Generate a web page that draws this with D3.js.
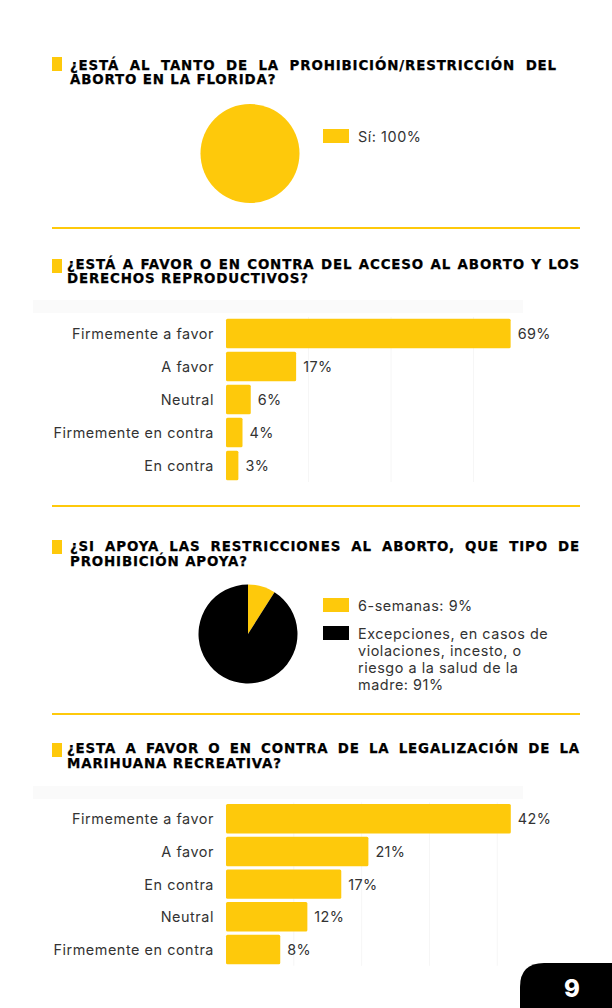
<!DOCTYPE html>
<html>
<head>
<meta charset="utf-8">
<script src="https://cdn.jsdelivr.net/npm/d3@7"></script>
<style>
  body { margin: 0; background: #fff; }
  svg { display: block; }
</style>
</head>
<body>
<script>
// ---- data ----
const titles1 = ["¿ESTÁ AL TANTO DE LA PROHIBICIÓN/RESTRICCIÓN DEL", "ABORTO EN LA FLORIDA?"];
const titles2 = ["¿ESTÁ A FAVOR O EN CONTRA DEL ACCESO AL ABORTO Y LOS", "DERECHOS REPRODUCTIVOS?"];
const titles3 = ["¿SI APOYA LAS RESTRICCIONES AL ABORTO, QUE TIPO DE", "PROHIBICIÓN APOYA?"];
const titles4 = ["¿ESTA A FAVOR O EN CONTRA DE LA LEGALIZACIÓN DE LA", "MARIHUANA RECREATIVA?"];

const pie1Labels = ["Sí: 100%"];
const pie1Values = [100];

const accesoCats = ["Firmemente a favor", "A favor", "Neutral", "Firmemente en contra", "En contra"];
const accesoVals = [69, 17, 6, 4, 3];

const pie2Lines = [["6-semanas: 9%"], ["Excepciones, en casos de", "violaciones, incesto, o", "riesgo a la salud de la", "madre: 91%"]];
const pie2Values = [9, 91];

const mariCats = ["Firmemente a favor", "A favor", "En contra", "Neutral", "Firmemente en contra"];
const mariVals = [42, 21, 17, 12, 8];

const pageNumber = "9";

const yellow = "#fec90b";
const ink = "#000";
const bodyFont = "Inter, 'Noto Sans', sans-serif";
const titleFont = "'DejaVu Sans', sans-serif";

let width = 612, height = 1008;

let svg = d3.select('body')
  .append('svg')
  .attr('width', width)
  .attr('height', height);

// section title with small yellow marker, first line justified
function drawTitle(lines, tx, y0, endX, markerY) {
  svg.append('rect')
    .attr('x', 52).attr('y', markerY)
    .attr('width', 10).attr('height', 14)
    .attr('fill', yellow);

  lines.forEach((line, i) => {
    let t = svg.append('text')
      .attr('x', tx)
      .attr('y', y0 + i * 14.8)
      .text(line)
      .style('font-family', titleFont)
      .style('font-weight', 'bold')
      .style('font-size', '13.4px')
      .style('letter-spacing', '0.85px')
      .attr('fill', ink)
      .attr('stroke', ink)
      .attr('stroke-width', 0.25);
    if (i === 0) {
      let w = t.node().getComputedTextLength();
      let gaps = line.split(' ').length - 1;
      let extra = (endX - tx - w) / gaps;
      t.style('word-spacing', extra + 'px');
    }
  });
}

function drawSeparator(y) {
  svg.append('line')
    .attr('x1', 52).attr('x2', 580)
    .attr('y1', y).attr('y2', y)
    .attr('stroke', yellow)
    .attr('stroke-width', 2);
}

function drawPie(values, colors, cx, cy, r) {
  let pie = d3.pie().sort(null)(values);
  let arc = d3.arc().innerRadius(0).outerRadius(r);
  svg.append('g')
    .attr('transform', `translate(${cx}, ${cy})`)
    .selectAll('path')
    .data(pie)
    .enter()
    .append('path')
    .attr('d', arc)
    .attr('fill', (d, i) => colors[i]);
}

function drawLegend(lineSets, colors, x, ys) {
  lineSets.forEach((lines, i) => {
    svg.append('rect')
      .attr('x', x).attr('y', ys[i])
      .attr('width', 26).attr('height', 14)
      .attr('fill', colors[i]);
    lines.forEach((l, j) => {
      svg.append('text')
        .attr('x', x + 35)
        .attr('y', ys[i] + 7 + j * 17)
        .attr('dominant-baseline', 'central')
        .text(l)
        .style('font-family', bodyFont)
        .style('font-size', '14.4px')
        .style('letter-spacing', '0.55px')
        .attr('fill', '#333');
    });
  });
}

function drawBars(cats, vals, xMax, ticks, bandTop, top, bottom) {
  let xScale = d3.scaleLinear()
    .domain([0, xMax])
    .range([226, 523]);

  let yScale = d3.scaleBand()
    .domain(cats)
    .range([top, bottom])
    .paddingInner(0.1)
    .paddingOuter(0.05);

  // faint header band
  svg.append('rect')
    .attr('x', 33).attr('y', bandTop)
    .attr('width', 490).attr('height', 13)
    .attr('fill', '#fafafa');

  // gridlines
  svg.append('g')
    .selectAll('line')
    .data(ticks)
    .enter()
    .append('line')
    .attr('x1', d => xScale(d)).attr('x2', d => xScale(d))
    .attr('y1', top).attr('y2', bottom)
    .attr('stroke', '#f6f6f6')
    .attr('stroke-width', 1);

  svg.append('g')
    .selectAll('rect')
    .data(vals)
    .enter()
    .append('rect')
    .attr('x', xScale(0))
    .attr('y', (d, i) => yScale(cats[i]))
    .attr('width', d => xScale(d) - xScale(0))
    .attr('height', yScale.bandwidth())
    .attr('rx', 1.5)
    .attr('fill', yellow);

  // category labels
  svg.append('g')
    .selectAll('text')
    .data(cats)
    .enter()
    .append('text')
    .attr('x', 214)
    .attr('y', d => yScale(d) + yScale.bandwidth() / 2)
    .attr('text-anchor', 'end')
    .attr('dominant-baseline', 'central')
    .text(d => d)
    .style('font-family', bodyFont)
    .style('font-size', '14.4px')
    .style('letter-spacing', '0.55px')
    .attr('fill', '#333');

  // value labels
  svg.append('g')
    .selectAll('text')
    .data(vals)
    .enter()
    .append('text')
    .attr('x', d => xScale(d) + 7)
    .attr('y', (d, i) => yScale(cats[i]) + yScale.bandwidth() / 2)
    .attr('dominant-baseline', 'central')
    .text(d => d + '%')
    .style('font-family', bodyFont)
    .style('font-size', '14.4px')
    .style('letter-spacing', '0.4px')
    .attr('fill', '#333');
}

// ---- section 1 ----
drawTitle(titles1, 70, 69.5, 557, 57);
drawPie(pie1Values, [yellow], 250, 153.5, 49.5);
drawLegend([pie1Labels], [yellow], 323, [129]);
drawSeparator(228);

// ---- section 2 ----
drawTitle(titles2, 67, 268.5, 580, 259);
drawBars(accesoCats, accesoVals, 72, [20, 40, 60], 300, 317, 482);
drawSeparator(506);

// ---- section 3 ----
drawTitle(titles3, 70, 551, 580, 540);
drawPie(pie2Values, [yellow, ink], 248, 634, 49.5);
drawLegend(pie2Lines, [yellow, ink], 323, [598, 626]);
drawSeparator(714);

// ---- section 4 ----
drawTitle(titles4, 67, 753, 580, 743);
drawBars(mariCats, mariVals, 43.8, [10, 20, 30, 40], 786, 802.4, 965.8);

// page number tab
let r = 24;
svg.append('path')
  .attr('d', `M520,1008 V${963 + r} Q520,963 ${520 + r},963 H612 V1008 Z`)
  .attr('fill', '#000');

svg.append('text')
  .attr('x', 572)
  .attr('y', 997)
  .attr('text-anchor', 'middle')
  .text(pageNumber)
  .style('font-family', bodyFont)
  .style('font-weight', 800)
  .style('font-size', '24px')
  .attr('fill', '#fff');
</script>
</body>
</html>
